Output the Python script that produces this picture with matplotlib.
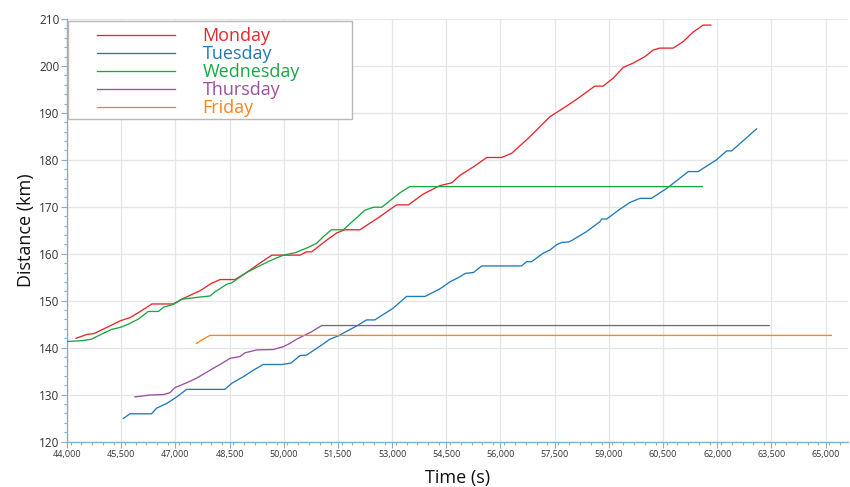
import numpy as np
import matplotlib
matplotlib.use("Agg")
import matplotlib.pyplot as plt
from matplotlib.patches import Rectangle
from matplotlib.ticker import MultipleLocator, StrMethodFormatter

plt.rcParams['font.family'] = ['Open Sans', 'DejaVu Sans']

# values (time in s, distance in km)
mon_t = [44250, 44550, 44750, 45100, 45470, 45750, 46050, 46350, 46940, 47130, 47310, 47680,
         48000, 48240, 48650, 48970, 49340, 49670, 50450, 50630, 50770, 51190, 51460, 51690,
         52110, 52660, 53120, 53450, 53860, 54320, 54650, 54880, 55250, 55620, 56030, 56310,
         56770, 57370, 57740, 58110, 58610, 58840, 59120, 59400, 59670, 60000, 60230, 60410,
         60780, 61060, 61330, 61610, 61820]
mon_d = [142.0, 142.8, 143.0, 144.3, 145.7, 146.4, 147.8, 149.3, 149.3, 150.1, 150.8, 152.1,
         153.7, 154.5, 154.5, 156.0, 158.0, 159.7, 159.7, 160.4, 160.4, 162.9, 164.4, 165.1,
         165.1, 167.9, 170.4, 170.4, 172.7, 174.5, 175.1, 176.7, 178.5, 180.5, 180.5, 181.4,
         184.6, 189.2, 191.0, 192.9, 195.7, 195.7, 197.4, 199.7, 200.6, 202.0, 203.4, 203.8,
         203.8, 205.2, 207.2, 208.7, 208.7]

tue_t = [45560, 45740, 46340, 46480, 46760, 47040, 47310, 48370, 48560, 48880, 49160, 49430,
         49940, 50200, 50450, 50630, 51000, 51280, 51510, 52060, 52290, 52520, 53030, 53400,
         53910, 54320, 54600, 54880, 55020, 55250, 55480, 56580, 56720, 56860, 57180, 57370,
         57550, 57690, 57880, 57970, 58380, 58750, 58800, 58940, 59310, 59580, 59860, 60180,
         60600, 61200, 61470, 61980, 62260, 62400, 63090]
tue_d = [124.9, 125.9, 125.9, 127.1, 128.1, 129.5, 131.1, 131.1, 132.4, 133.8, 135.2, 136.4,
         136.4, 136.7, 138.3, 138.4, 140.3, 141.8, 142.5, 144.8, 145.9, 145.9, 148.4, 150.9,
         150.9, 152.5, 154.0, 155.1, 155.8, 156.0, 157.4, 157.4, 158.3, 158.3, 160.1, 160.8,
         161.9, 162.4, 162.5, 162.8, 164.7, 166.8, 167.4, 167.4, 169.5, 170.9, 171.8, 171.8,
         173.9, 177.5, 177.5, 180.0, 181.9, 181.9, 186.6]

wed_t = [44000, 44450, 44680, 44910, 45240, 45470, 45700, 45980, 46250, 46530, 46670, 46940,
         47080, 47170, 47590, 47960, 48100, 48420, 48560, 48970, 49250, 49620, 49990, 50310,
         50630, 50910, 51090, 51320, 51650, 52250, 52480, 52710, 53220, 53490, 61590]
wed_d = [141.3, 141.5, 141.8, 142.7, 143.9, 144.3, 145.0, 146.1, 147.7, 147.7, 148.6, 149.2,
         149.8, 150.3, 150.7, 151.0, 151.9, 153.5, 153.8, 156.0, 157.1, 158.5, 159.7, 160.2,
         161.2, 162.2, 163.6, 165.1, 165.1, 169.3, 169.9, 169.9, 173.0, 174.3, 174.3]

thu_t = [45880, 46300, 46670, 46850, 46990, 47310, 47590, 47960, 48280, 48510, 48790, 48930,
         49250, 49710, 49990, 50170, 50360, 50540, 50730, 51050, 63440]
thu_d = [129.5, 129.9, 130.0, 130.4, 131.5, 132.5, 133.5, 135.2, 136.6, 137.7, 138.1, 138.9,
         139.5, 139.6, 140.2, 140.9, 141.8, 142.5, 143.2, 144.7, 144.7]

fri_t = [47590, 47770, 47960, 65160]
fri_d = [140.9, 141.8, 142.6, 142.6]

days = ['Monday', 'Tuesday', 'Wednesday', 'Thursday', 'Friday']
colors = ['#e8262b', '#1f7bb6', '#17a844', '#9b4fa2', '#ff8418']
series = [(mon_t, mon_d), (tue_t, tue_d), (wed_t, wed_d), (thu_t, thu_d), (fri_t, fri_d)]

W, H = 850, 487
fig = plt.figure(figsize=(W / 100, H / 100), dpi=100)
ax = fig.add_axes([67 / W, 1 - 441.5 / H, (848 - 67) / W, (441.5 - 19) / H])

for (t, d), name, c in zip(series, days, colors):
    ax.plot(t, d, color=c, lw=0.95, label=name, zorder=3)

ax.set_xlim(44000, 65620)
ax.set_ylim(120, 210)

axis_col = '#7eb3d6'
for s in ['top', 'right']:
    ax.spines[s].set_visible(False)
for s in ['left', 'bottom']:
    ax.spines[s].set_color(axis_col)
    ax.spines[s].set_linewidth(1.0)

ax.xaxis.set_major_locator(MultipleLocator(1500))
ax.xaxis.set_minor_locator(MultipleLocator(300))
ax.yaxis.set_major_locator(MultipleLocator(10))
ax.yaxis.set_minor_locator(MultipleLocator(2))
ax.xaxis.set_major_formatter(StrMethodFormatter('{x:,.0f}'))
ax.set_xticks(np.arange(44000, 65001, 1500))

ax.tick_params(which='major', length=4, width=0.8, color=axis_col, labelcolor='#333333')
ax.tick_params(which='minor', length=2, width=0.8, color=axis_col)
ax.tick_params(axis='x', labelsize=6.5, pad=2)
ax.tick_params(axis='y', labelsize=8.5, pad=1.5)

ax.grid(True, which='major', color='#e6e6e6', lw=0.9, zorder=0)
ax.set_axisbelow(True)

ax.set_xlabel('Time (s)', fontsize=13, color='#111111', labelpad=7)
ax.set_ylabel('Distance (km)', fontsize=13, color='#111111', labelpad=3)

# legend frame drawn separately (asymmetric padding in the reference)
x0 = (68 - 67) / 781
x1 = (352 - 67) / 781
y0 = (441.5 - 119) / 422.5
y1 = (441.5 - 21) / 422.5
ax.add_patch(Rectangle((x0, y0), x1 - x0, y1 - y0, transform=ax.transAxes,
                       facecolor='white', edgecolor='#b8b8b8', lw=1.0, zorder=4))
leg = ax.legend(loc='upper left', bbox_to_anchor=((97 - 67) / 781, (441.5 - 27) / 422.5),
                frameon=False, fontsize=13, borderpad=0, borderaxespad=0,
                handlelength=4.3, handletextpad=1.55, labelspacing=0.0)
leg.set_zorder(5)
for txt, c in zip(leg.get_texts(), colors):
    txt.set_color(c)

fig.savefig('out.png', dpi=100)
